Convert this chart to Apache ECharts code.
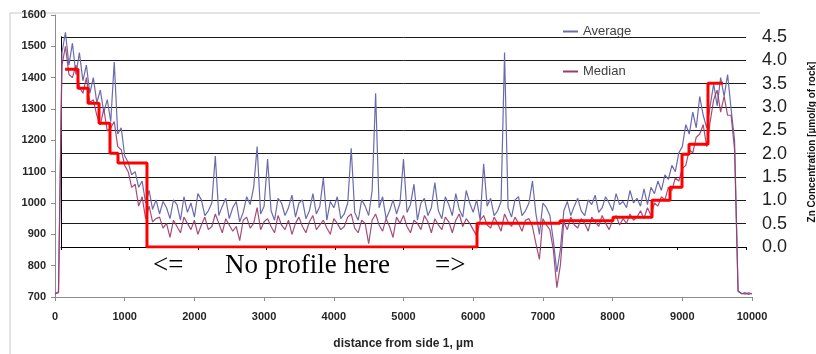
<!DOCTYPE html>
<html><head><meta charset="utf-8">
<script src="https://cdn.jsdelivr.net/npm/echarts@6/dist/echarts.min.js"></script>
<style>html,body{margin:0;padding:0;background:#fff}#c{width:816px;height:354px}</style>
</head><body><div id="c"></div>
<script>
// sampling step of the profile (µm)
const sampleStep = 50;
// Average profile, one value per 50 µm from 0 to 10000
const avgValues = [
712,716,1480,1545,1440,1510,1410,1480,1390,1440,
1350,1400,1320,1360,1290,1330,1260,1450,1220,1240,
1150,1130,1090,1100,1050,1070,1000,1040,980,1010,
965,1005,985,950,1010,995,945,1020,970,1000,
955,1030,1010,960,975,1000,1150,960,990,1015,
950,985,1005,940,970,1020,995,1050,1180,965,
990,1140,975,945,1015,1000,960,985,1025,955,
1000,1010,950,975,1030,965,990,1080,945,1005,
985,1020,950,965,1000,1175,970,945,1010,990,
960,1040,1350,985,1020,950,975,1010,965,1000,
1140,970,995,1060,945,1000,1015,960,985,1065,
975,950,1020,995,960,1030,980,955,1040,1000,
970,1010,945,1125,990,1015,960,975,1005,1480,
985,955,1010,1020,960,975,1000,1070,965,900,
1000,985,960,880,780,850,975,1005,960,990,
1015,975,960,1010,995,1025,970,985,1020,1000,
975,1030,995,1005,985,1040,1000,1015,990,1045,
995,1050,1030,1070,1040,1090,1075,1120,1100,1160,
1180,1250,1220,1290,1240,1340,1280,1240,1310,1380,
1310,1400,1340,1410,1300,1200,720,710,714,708,
712
];
// Median profile, same sampling
const medValues = [
710,714,1440,1500,1410,1400,1440,1370,1350,1400,
1320,1330,1280,1250,1300,1230,1240,1260,1180,1170,
1120,1100,1050,1060,990,1020,950,990,940,950,
955,920,935,890,945,925,905,955,935,915,
945,900,930,955,915,925,965,935,905,950,
930,910,925,880,945,955,920,935,985,915,
940,950,925,905,960,930,915,945,900,935,
955,925,905,940,960,915,930,945,920,900,
950,935,915,925,955,965,920,905,945,935,
870,945,965,930,910,950,925,890,955,935,
960,925,905,945,935,915,960,940,905,950,
930,915,955,940,905,945,965,925,950,935,
915,895,945,960,930,920,955,935,910,965,
940,925,955,935,910,945,950,925,870,820,
950,930,915,850,730,800,940,915,955,930,
920,950,935,910,955,940,925,960,935,915,
945,960,930,950,935,965,945,955,975,950,
985,960,1000,990,1020,1010,1050,1040,1080,1070,
1110,1120,1170,1160,1210,1220,1250,1180,1260,1330,
1360,1290,1340,1280,1280,1170,718,712,709,713,
710
];
// Zn concentration step profile: segment start distances (µm) and values
const znEdges = [60, 248, 394, 555, 715, 832, 1255, 6073, 7285, 8058, 8628, 8891, 9066, 9168, 9445, 9664];
const znValues = [3.81, 3.40, 3.08, 2.65, 2.01, 1.80, 0.0, 0.51, 0.56, 0.64, 1.00, 1.28, 1.99, 2.20, 3.51];

const avgData = avgValues.map((v, i) => [i * sampleStep, v]);
const medData = medValues.map((v, i) => [i * sampleStep, v]);
const znData = znValues.map((v, i) => [znEdges[i], v]);
znData.push([znEdges[znEdges.length - 1], znValues[znValues.length - 1]]);

const chart = echarts.init(document.getElementById('c'), null, {renderer: 'canvas'});
const boldLbl = {fontFamily: 'Liberation Sans', fontWeight: 'bold', fontSize: 11, color: '#262626',
                 formatter: v => String(v)};
chart.setOption({
  animation: false,
  backgroundColor: '#fff',
  grid: [
    {left: 55, right: 64, top: 15, bottom: 57, outerBoundsMode: 'none', containLabel: false},
    {left: 61, right: 70, top: 37, bottom: 107, outerBoundsMode: 'none', containLabel: false}
  ],
  legend: {
    data: ['Average', 'Median'],
    orient: 'vertical', left: 563, top: 25, padding: 0,
    itemGap: 27, itemWidth: 15, itemHeight: 2, icon: 'rect',
    textStyle: {fontFamily: 'Liberation Sans', fontSize: 13, color: '#404040'}
  },
  xAxis: [
    {type: 'value', gridIndex: 0, min: 0, max: 10000, interval: 1000,
     axisLine: {lineStyle: {color: '#8c8c8c'}},
     axisTick: {length: 4, lineStyle: {color: '#8c8c8c'}},
     axisLabel: Object.assign({margin: 14}, boldLbl),
     splitLine: {show: false},
     name: 'distance from side 1, µm', nameLocation: 'middle', nameGap: 41,
     nameTextStyle: {fontFamily: 'Liberation Sans', fontWeight: 'bold', fontSize: 12, color: '#262626'}},
    {type: 'value', gridIndex: 1, min: 0, max: 10000, interval: 1000,
     axisLine: {lineStyle: {color: '#000'}},
     axisTick: {length: 3, lineStyle: {color: '#000'}},
     axisLabel: {show: false}, splitLine: {show: false}}
  ],
  yAxis: [
    {type: 'value', gridIndex: 0, min: 700, max: 1600, interval: 100,
     axisLine: {show: true, lineStyle: {color: '#8c8c8c'}},
     axisTick: {show: true, length: 4, lineStyle: {color: '#8c8c8c'}},
     axisLabel: Object.assign({margin: 9}, boldLbl),
     splitLine: {show: false}},
    {type: 'value', gridIndex: 1, position: 'right', min: 0, max: 4.5, interval: 0.5,
     axisLine: {show: true, lineStyle: {color: '#000'}},
     axisTick: {show: false},
     axisLabel: {margin: 16, fontFamily: 'Liberation Sans', fontSize: 18, color: '#222',
                 formatter: v => v.toFixed(1)},
     splitLine: {show: true, lineStyle: {color: '#1a1a1a', width: 1}},
     name: 'Zn Concentration [µmol/g of rock]', nameLocation: 'middle', nameRotate: 90, nameGap: 61,
     nameTextStyle: {fontFamily: 'Liberation Sans', fontWeight: 'bold', fontSize: 10, color: '#111'}},
    {type: 'value', gridIndex: 1, position: 'left', min: 0, max: 4.5, interval: 0.5,
     axisLine: {show: true, lineStyle: {color: '#000'}},
     axisTick: {show: false}, axisLabel: {show: false}, splitLine: {show: false}}
  ],
  series: [
    {name: 'Average', type: 'line', xAxisIndex: 0, yAxisIndex: 0, data: avgData,
     showSymbol: false, symbol: 'none', color: '#6b6bab',
     lineStyle: {width: 1.2, color: '#6b6bab'}, z: 3},
    {name: 'Median', type: 'line', xAxisIndex: 0, yAxisIndex: 0, data: medData,
     showSymbol: false, symbol: 'none', color: '#9b3a6c',
     lineStyle: {width: 1.2, color: '#9b3a6c', opacity: 0.9}, z: 4},
    {name: 'Zn', type: 'line', xAxisIndex: 1, yAxisIndex: 1, data: znData, step: 'end',
     showSymbol: false, symbol: 'none', color: '#ff0000',
     lineStyle: {width: 3, color: '#ff0000'}, z: 6}
  ],
  graphic: [
    {type: 'line', shape: {x1: 10, y1: 13, x2: 760, y2: 13}, style: {stroke: '#c8c8c8', lineWidth: 1}, silent: true},
    {type: 'line', shape: {x1: 10, y1: 13, x2: 10, y2: 354}, style: {stroke: '#c8c8c8', lineWidth: 1}, silent: true},
    {type: 'text', left: 153, top: 252, style: {text: '<=', font: '27px "Liberation Serif"', fill: '#000'}},
    {type: 'text', left: 225, top: 252, style: {text: 'No profile here', font: '27px "Liberation Serif"', fill: '#000'}},
    {type: 'text', left: 435, top: 252, style: {text: '=>', font: '27px "Liberation Serif"', fill: '#000'}}
  ]
});
</script>
</body></html>
